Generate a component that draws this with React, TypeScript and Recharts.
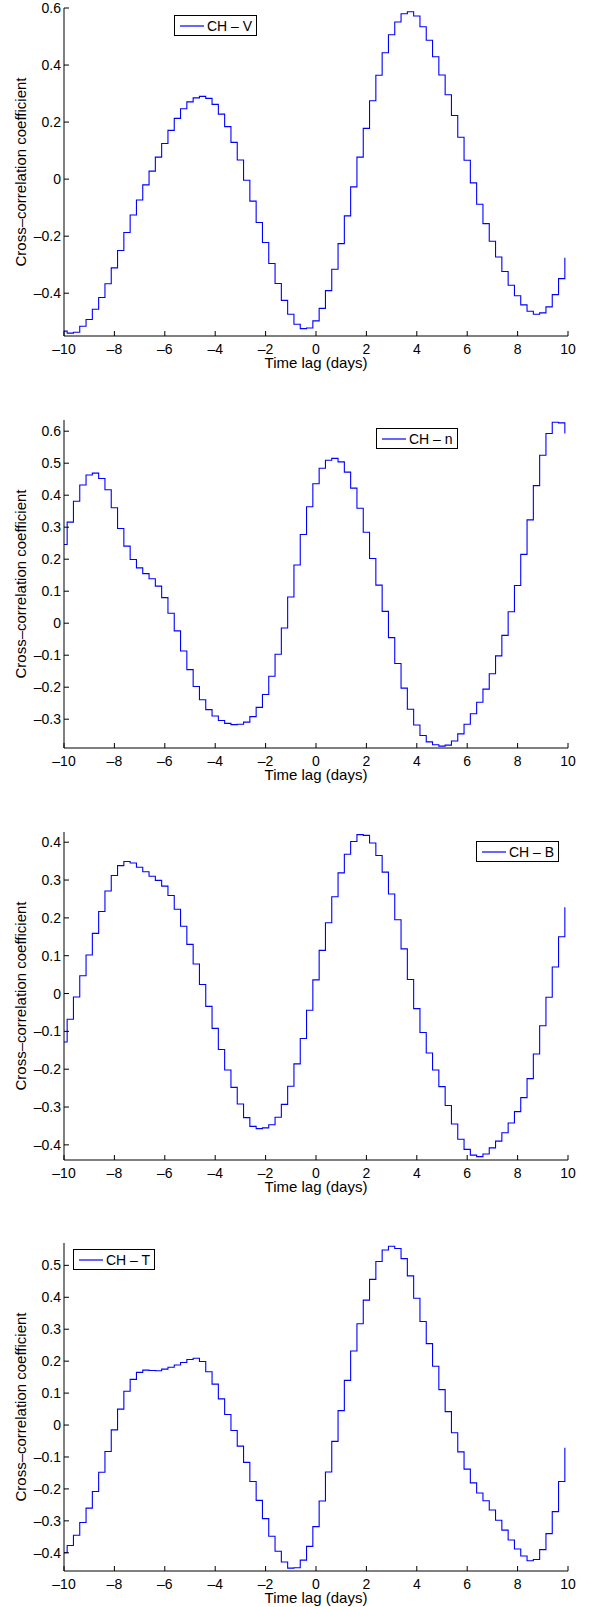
import { Legend, Line, LineChart, XAxis, YAxis } from "recharts";

const FONT = '"Liberation Sans", Arial, Helvetica, sans-serif';

// lags run from -10 to 10 days every 6 h; stairs are drawn from the bin edges
const LAG_START = -10;
const LAG_STEP = 0.25;
const BIN_SHIFT = -0.125;

const xTicks = [-10, -8, -6, -4, -2, 0, 2, 4, 6, 8, 10];

const chV = [
  -0.533, -0.54, -0.537, -0.516, -0.492, -0.456, -0.415, -0.367, -0.311, -0.25,
  -0.187, -0.126, -0.073, -0.02, 0.028, 0.077, 0.125, 0.171, 0.213, 0.247,
  0.271, 0.285, 0.29, 0.283, 0.262, 0.228, 0.184, 0.129, 0.067, -0.004,
  -0.077, -0.152, -0.222, -0.296, -0.366, -0.425, -0.474, -0.509, -0.524, -0.522,
  -0.497, -0.453, -0.391, -0.316, -0.226, -0.129, -0.027, 0.077, 0.178, 0.275,
  0.364, 0.443, 0.506, 0.551, 0.58, 0.587, 0.572, 0.534, 0.487, 0.429,
  0.365, 0.296, 0.223, 0.147, 0.066, -0.013, -0.088, -0.156, -0.218, -0.273,
  -0.324, -0.372, -0.409, -0.441, -0.463, -0.474, -0.469, -0.448, -0.405, -0.349,
  -0.276,
];

const chN = [
  0.246, 0.316, 0.381, 0.432, 0.463, 0.469, 0.452, 0.417, 0.361, 0.296,
  0.241, 0.199, 0.173, 0.155, 0.139, 0.116, 0.08, 0.031, -0.024, -0.087,
  -0.145, -0.198, -0.239, -0.27, -0.29, -0.304, -0.313, -0.317, -0.316, -0.309,
  -0.292, -0.263, -0.223, -0.166, -0.097, -0.015, 0.082, 0.182, 0.277, 0.364,
  0.436, 0.484, 0.509, 0.515, 0.504, 0.472, 0.422, 0.359, 0.284, 0.202,
  0.119, 0.037, -0.045, -0.126, -0.203, -0.269, -0.318, -0.351, -0.371, -0.38,
  -0.384, -0.381, -0.368, -0.346, -0.316, -0.283, -0.247, -0.206, -0.158, -0.102,
  -0.038, 0.036, 0.118, 0.215, 0.323, 0.43, 0.525, 0.593, 0.628, 0.626,
  0.593,
];

const chB = [
  -0.128, -0.068, -0.009, 0.047, 0.102, 0.159, 0.217, 0.271, 0.312, 0.338,
  0.349, 0.345, 0.334, 0.322, 0.31, 0.299, 0.284, 0.259, 0.223, 0.178,
  0.13, 0.078, 0.024, -0.034, -0.092, -0.148, -0.202, -0.248, -0.292, -0.328,
  -0.351, -0.357, -0.355, -0.347, -0.327, -0.293, -0.245, -0.186, -0.119, -0.044,
  0.036, 0.114, 0.187, 0.256, 0.319, 0.368, 0.402, 0.42, 0.418, 0.398,
  0.365, 0.321, 0.263, 0.195, 0.118, 0.037, -0.04, -0.103, -0.157, -0.202,
  -0.246, -0.296, -0.345, -0.385, -0.412, -0.427, -0.431, -0.424, -0.408, -0.39,
  -0.368, -0.342, -0.312, -0.275, -0.225, -0.16, -0.085, -0.01, 0.07, 0.15,
  0.228,
];

const chT = [
  -0.4, -0.377, -0.345, -0.305, -0.26, -0.208, -0.148, -0.083, -0.015, 0.05,
  0.106, 0.143, 0.165, 0.172, 0.171, 0.17, 0.175, 0.181, 0.188, 0.196,
  0.205, 0.209, 0.199, 0.167, 0.128, 0.082, 0.033, -0.017, -0.066, -0.117,
  -0.177, -0.236, -0.293, -0.348, -0.395, -0.429, -0.448, -0.447, -0.423, -0.38,
  -0.318, -0.238, -0.147, -0.051, 0.045, 0.14, 0.232, 0.317, 0.391, 0.456,
  0.512, 0.548, 0.56, 0.553, 0.521, 0.467, 0.397, 0.324, 0.255, 0.184,
  0.111, 0.042, -0.024, -0.084, -0.138, -0.181, -0.213, -0.237, -0.266, -0.298,
  -0.329, -0.36, -0.388, -0.41, -0.425, -0.421, -0.39, -0.34, -0.271, -0.177,
  -0.071,
];

const ticksV = [-0.4, -0.2, 0, 0.2, 0.4, 0.6];
const ticksN = [-0.3, -0.2, -0.1, 0, 0.1, 0.2, 0.3, 0.4, 0.5, 0.6];
const ticksB = [-0.4, -0.3, -0.2, -0.1, 0, 0.1, 0.2, 0.3, 0.4];
const ticksT = [-0.4, -0.3, -0.2, -0.1, 0, 0.1, 0.2, 0.3, 0.4, 0.5];

const fmt = (v: number) => (v < 0 ? "\u2013" + Math.abs(v) : String(v));

const tickStyle = { fill: "#000", fontSize: 14, fontFamily: FONT };

const xLabel = (p: any) => {
  const vb = p.viewBox;
  return (
    <text
      x={vb.x + vb.width / 2}
      y={vb.y + 32}
      textAnchor="middle"
      fontSize={15}
      fontFamily={FONT}
      fill="#000"
    >
      Time lag (days)
    </text>
  );
};

const yLabel = (p: any) => {
  const vb = p.viewBox;
  const cy = vb.y + vb.height / 2;
  return (
    <text
      transform={`translate(${vb.x + 26}, ${cy}) rotate(-90)`}
      textAnchor="middle"
      fontSize={15}
      fontFamily={FONT}
      fill="#000"
    >
      Cross{"\u2013"}correlation coefficient
    </text>
  );
};

const legendBox = (props: any) => {
  const { payload } = props;
  return (
    <div>
      {payload.map((item: any) => (
        <div
          key={item.value}
          style={{
            display: "flex",
            alignItems: "center",
            height: 19,
            border: "1px solid #000",
            background: "#fff",
            padding: "0 4px 0 5px",
            fontFamily: FONT,
            fontSize: 14,
            color: "#000",
            whiteSpace: "nowrap",
          }}
        >
          <svg width={24} height={10} style={{ marginRight: 3 }}>
            <line x1={0} y1={5} x2={24} y2={5} stroke={item.color} strokeWidth={1.2} />
          </svg>
          <span>{item.value}</span>
        </div>
      ))}
    </div>
  );
};

interface PanelProps {
  name: string;
  values: number[];
  yDomain: [number, number];
  yTicks: number[];
  legendLeft: number;
  legendTop: number;
  top: number;
}

const Panel = (props: PanelProps) => {
  const { name, values, yDomain, yTicks, legendLeft, legendTop, top } = props;
  const data = values.map((v, i) => ({ x: LAG_START + LAG_STEP * i + BIN_SHIFT, v }));

  return (
    <div style={{ position: "absolute", left: 0, top }}>
      <LineChart
        width={589}
        height={412}
        data={data}
        margin={{ top: 8, right: 21, bottom: 36, left: 0 }}
      >
        <XAxis
          dataKey="x"
          type="number"
          domain={[-10, 10]}
          ticks={xTicks}
          interval={0}
          allowDataOverflow
          tickFormatter={fmt}
          tickSize={-5}
          tickMargin={13}
          height={40}
          stroke="#000"
          tick={tickStyle}
          label={{ content: xLabel }}
        />
        <XAxis
          xAxisId="top"
          orientation="top"
          type="number"
          domain={[-10, 10]}
          ticks={xTicks}
          interval={0}
          allowDataOverflow
          tickSize={-5}
          height={0}
          stroke="#000"
          tick={false}
        />
        <YAxis
          type="number"
          domain={yDomain}
          ticks={yTicks}
          interval={0}
          allowDataOverflow
          tickFormatter={fmt}
          tickSize={-5}
          tickMargin={8}
          width={64}
          stroke="#000"
          tick={tickStyle}
          label={{ content: yLabel }}
        />
        <YAxis
          yAxisId="right"
          orientation="right"
          type="number"
          domain={yDomain}
          ticks={yTicks}
          interval={0}
          allowDataOverflow
          tickSize={-5}
          width={0}
          stroke="#000"
          tick={false}
        />
        <Legend
          layout="horizontal"
          verticalAlign="middle"
          align="center"
          content={legendBox}
          wrapperStyle={{ left: legendLeft, top: legendTop, width: "auto" }}
        />
        <Line
          type="stepAfter"
          dataKey="v"
          name={name}
          stroke="#0000ff"
          strokeWidth={1.1}
          dot={false}
          activeDot={false}
          isAnimationActive={false}
        />
      </LineChart>
    </div>
  );
};

export default function App() {
  return (
    <div
      style={{
        position: "absolute",
        left: 0,
        top: 0,
        width: 589,
        height: 1607,
        overflow: "hidden",
        background: "#fff",
      }}
    >
      <Panel name="CH – V" values={chV} yDomain={[-0.55, 0.6]} yTicks={ticksV} legendLeft={174} legendTop={15} top={0} />
      <Panel name="CH – n" values={chN} yDomain={[-0.39, 0.635]} yTicks={ticksN} legendLeft={376} legendTop={16} top={412} />
      <Panel name="CH – B" values={chB} yDomain={[-0.44, 0.427]} yTicks={ticksB} legendLeft={476} legendTop={17} top={824} />
      <Panel name="CH – T" values={chT} yDomain={[-0.457, 0.57]} yTicks={ticksT} legendLeft={73} legendTop={14} top={1235} />
    </div>
  );
}
